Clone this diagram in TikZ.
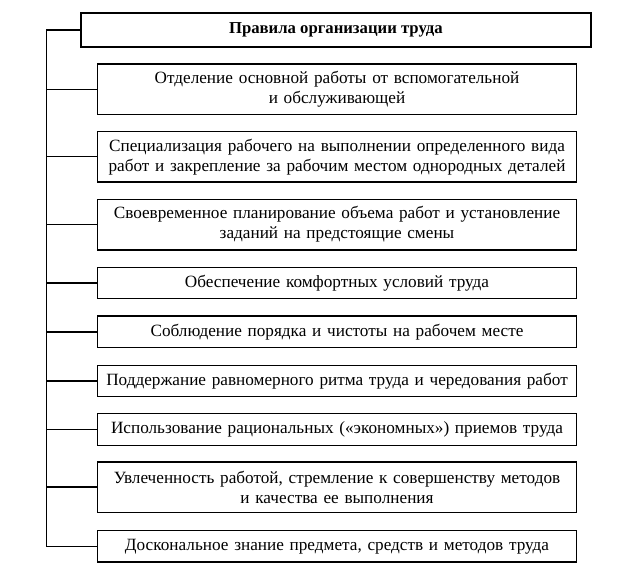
\documentclass[tikz,border=0pt]{standalone}
\usepackage{fontspec}
\setmainfont{Liberation Serif}
\begin{document}
\begin{tikzpicture}[x=1pt,y=-1pt,
  every node/.style={inner sep=0pt, outer sep=0pt},
  item/.style={draw, line width=1.4pt, minimum width=479.4pt, text width=475pt, align=center,
     font=\fontsize{17.2}{20}\selectfont},
  single/.style={item, minimum height=31.5pt},
  double/.style={item, minimum height=50.5pt},
  headbox/.style={draw, line width=1.9pt, minimum width=510.3pt, minimum height=33.4pt,
     font=\bfseries\fontsize{16.7}{20}\selectfont},
  link/.style={line width=1.3pt}]
\useasboundingbox (0,0) rectangle (628,582);
\node[headbox] (t) at (335.85,30) {Правила организации труда};
\node[double] (b1) at (337,89.15) {Отделение основной работы от вспомогательной\\и обслуживающей};
\node[double] (b2) at (337,156.7) {Специализация рабочего на выполнении определенного вида\\работ и закрепление за рабочим местом однородных деталей};
\node[double] (b3) at (337,224.65) {Своевременное планирование объема работ и установление\\заданий на предстоящие смены};
\node[single] (b4) at (337,283) {Обеспечение комфортных условий труда};
\node[single] (b5) at (337,331.85) {Соблюдение порядка и чистоты на рабочем месте};
\node[single] (b6) at (337,381) {Поддержание равномерного ритма труда и чередования работ};
\node[single] (b7) at (337,429.5) {Использование рациональных («экономных») приемов труда};
\node[double] (b8) at (337,487.1) {Увлеченность работой, стремление к совершенству методов\\и качества ее выполнения};
\node[single] (b9) at (337,546.3) {Доскональное знание предмета, средств и методов труда};
\coordinate (top) at (46.7,30);
\coordinate (bot) at (46.7,546.3);
\draw[link] (t.west) -- (top) -- (bot) -- (b9.west);
\foreach \b in {b1,b2,b3,b4,b5,b6,b7,b8}
  \draw[link] (\b.west) -- (top |- \b.west);
\end{tikzpicture}
\end{document}
